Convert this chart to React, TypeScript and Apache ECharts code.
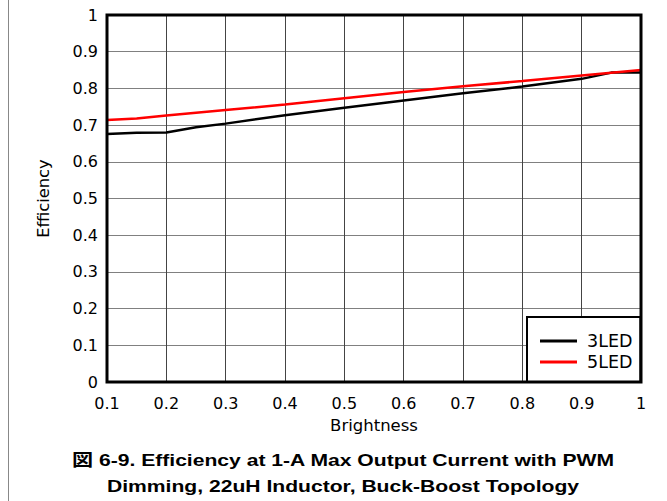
import React, { useEffect, useRef } from "react";
import * as echarts from "echarts";

const xTicks = [0.1, 0.2, 0.3, 0.4, 0.5, 0.6, 0.7, 0.8, 0.9, 1];
const brightness3 = [0.1, 0.15, 0.2, 0.25, 0.3, 0.4, 0.5, 0.6, 0.7, 0.8, 0.9, 0.95, 1.0];
const eff3LED = [0.676, 0.679, 0.68, 0.694, 0.704, 0.727, 0.747, 0.767, 0.787, 0.805, 0.826, 0.843, 0.843];
const brightness5 = [0.1, 0.15, 0.2, 0.3, 0.4, 0.5, 0.6, 0.7, 0.8, 0.9, 1.0];
const eff5LED = [0.714, 0.718, 0.726, 0.741, 0.756, 0.773, 0.79, 0.806, 0.82, 0.835, 0.85];
const seriesNames = ["3LED", "5LED"];
const xName = "Brightness";
const yName = "Efficiency";
const captionLines = [
  "図 6-9. Efficiency at 1-A Max Output Current with PWM",
  "Dimming, 22uH Inductor, Buck-Boost Topology",
];

const AXFONT = "'DejaVu Sans', 'Liberation Sans', sans-serif";
const CAPFONT = "'Liberation Sans', Arial, 'Noto Sans CJK JP', sans-serif";

export default function App() {
  const ref = useRef<HTMLDivElement>(null);
  useEffect(() => {
    if (!ref.current) return;
    const chart = echarts.init(ref.current, null, { renderer: "svg" });
    const fmt = (v: number) => String(Math.round(v * 10) / 10);
    chart.setOption({
      animation: false,
      backgroundColor: "#fff",
      textStyle: { fontFamily: AXFONT },
      grid: {
        left: 107,
        right: 26,
        top: 15,
        bottom: 119,
        show: true,
        borderColor: "#000",
        borderWidth: 3,
        backgroundColor: "transparent",
        z: 5,
      },
      xAxis: {
        type: "value",
        min: xTicks[0],
        max: xTicks[xTicks.length - 1],
        interval: 0.1,
        name: xName,
        nameLocation: "middle",
        nameGap: 35,
        nameTextStyle: { color: "#000", fontSize: 16.5, fontFamily: AXFONT },
        axisLine: { show: false },
        axisTick: { show: false },
        axisLabel: { color: "#000", fontSize: 16, margin: 13, formatter: fmt, fontFamily: AXFONT },
        splitLine: {
          show: true,
          showMinLine: false,
          showMaxLine: false,
          lineStyle: { color: "#444", width: 1 },
        },
      },
      yAxis: {
        type: "value",
        min: 0,
        max: 1,
        interval: 0.1,
        name: yName,
        nameLocation: "middle",
        nameGap: 56,
        nameTextStyle: { color: "#000", fontSize: 16.3, fontFamily: AXFONT },
        axisLine: { show: false },
        axisTick: { show: false },
        axisLabel: { color: "#000", fontSize: 16, margin: 9, formatter: fmt, fontFamily: AXFONT },
        splitLine: {
          show: true,
          showMinLine: false,
          showMaxLine: false,
          lineStyle: { color: "#808080", width: 1 },
        },
      },
      legend: {
        orient: "vertical",
        left: 527,
        top: 317,
        padding: [15, 8, 11, 13],
        backgroundColor: "#fff",
        borderColor: "#000",
        borderWidth: 2,
        borderRadius: 0,
        itemWidth: 37,
        itemHeight: 3,
        itemGap: 3,
        icon: "rect",
        data: seriesNames,
        textStyle: { color: "#000", fontSize: 17.5, fontFamily: AXFONT, padding: [0, 0, 0, 5] },
      },
      series: [
        {
          name: seriesNames[0],
          type: "line",
          data: brightness3.map((b, i) => [b, eff3LED[i]]),
          showSymbol: false,
          symbol: "none",
          lineStyle: { color: "#000", width: 2.5 },
          itemStyle: { color: "#000" },
          z: 3,
        },
        {
          name: seriesNames[1],
          type: "line",
          data: brightness5.map((b, i) => [b, eff5LED[i]]),
          showSymbol: false,
          symbol: "none",
          lineStyle: { color: "#ff0000", width: 2.5 },
          itemStyle: { color: "#ff0000" },
          z: 4,
        },
      ],
      graphic: [
        {
          type: "line",
          shape: { x1: 8.5, y1: 0, x2: 8.5, y2: 501 },
          style: { stroke: "#888", lineWidth: 1 },
          silent: true,
        },
        ...captionLines.map((t, i) => ({
          type: "text",
          x: 343,
          y: 460 + i * 26,
          scaleX: 1.28,
          style: {
            text: t,
            textAlign: "center",
            textVerticalAlign: "middle",
            fill: "#000",
            font: `bold 16.5px ${CAPFONT}`,
          },
          silent: true,
        })),
      ],
    });
    return () => chart.dispose();
  }, []);
  return (
    <div
      ref={ref}
      style={{ position: "fixed", left: 0, top: 0, width: 667, height: 501 }}
    />
  );
}
